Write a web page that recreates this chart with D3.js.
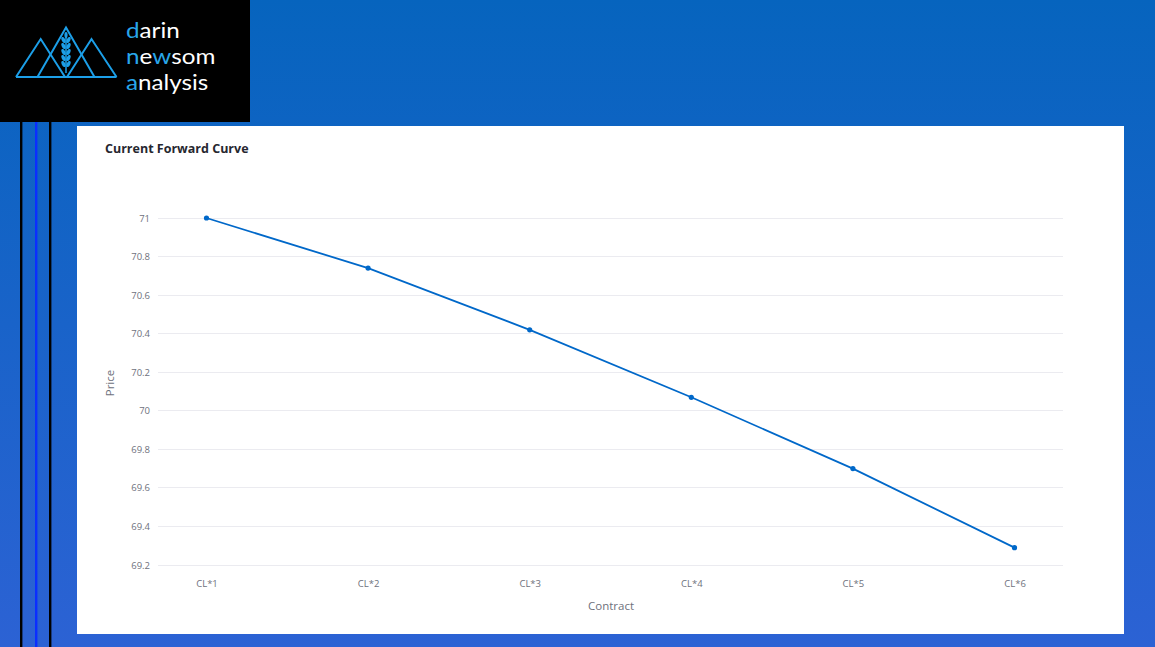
<!DOCTYPE html>
<html>
<head>
<meta charset="utf-8">
<script src="https://cdn.jsdelivr.net/npm/d3@7/dist/d3.min.js"></script>
<style>
  html, body { margin: 0; padding: 0; background: #fff; }
  svg { display: block; }
</style>
</head>
<body>
<svg id="chart" width="1155" height="647"></svg>
<script>
// ---- data ----
const contracts = ["CL*1", "CL*2", "CL*3", "CL*4", "CL*5", "CL*6"];
const prices = [71.00, 70.74, 70.42, 70.07, 69.70, 69.29];
const yTicks = [69.2, 69.4, 69.6, 69.8, 70, 70.2, 70.4, 70.6, 70.8, 71];
const titleText = "Current Forward Curve";
const xTitle = "Contract";
const yTitle = "Price";

const svg = d3.select("#chart");

// background gradient
const defs = svg.append("defs");
const grad = defs.append("linearGradient").attr("id", "bg").attr("x1", 0).attr("y1", 0).attr("x2", 0).attr("y2", 1);
grad.append("stop").attr("offset", "0%").attr("stop-color", "#0664be");
grad.append("stop").attr("offset", "100%").attr("stop-color", "#2c62d4");
svg.append("rect").attr("width", 1155).attr("height", 647).attr("fill", "url(#bg)");

// decorative vertical lines
[[21, "#000"], [36, "#0a2eff"], [50, "#000"]].forEach(([x, c]) => {
  svg.append("rect").attr("x", x - 1).attr("y", 122).attr("width", 2.4).attr("height", 525).attr("fill", c);
});

// logo box
svg.append("rect").attr("x", 0).attr("y", 0).attr("width", 250).attr("height", 122).attr("fill", "#000");
const logo = svg.append("g").attr("fill", "none").attr("stroke", "#1c9fe8").attr("stroke-width", 2).attr("stroke-linejoin", "miter");
logo.append("path").attr("d", "M16,77 L40.7,39 L65,77");
logo.append("path").attr("d", "M37.5,77 L66,27.5 L94.5,77");
logo.append("path").attr("d", "M67,77 L91.5,39 L116.5,77");
logo.append("path").attr("d", "M16,77 L116.5,77");
// wheat stalk
logo.append("path").attr("d", "M66,36 L66,73").attr("stroke-width", 1.5);
const wheat = svg.append("g").attr("fill", "#1c9fe8");
[40, 46, 52, 58, 64].forEach(y => {
  wheat.append("ellipse").attr("cx", 63.5).attr("cy", y).attr("rx", 1.8).attr("ry", 3.2).attr("transform", `rotate(-25,63.5,${y})`);
  wheat.append("ellipse").attr("cx", 68.5).attr("cy", y).attr("rx", 1.8).attr("ry", 3.2).attr("transform", `rotate(25,68.5,${y})`);
});
wheat.append("ellipse").attr("cx", 66).attr("cy", 35).attr("rx", 1.6).attr("ry", 3);

const logoText = svg.append("g").attr("transform", "translate(126,0) scale(1.1,1)")
  .attr("font-family", "Lato, 'Open Sans', sans-serif").attr("font-size", 22).attr("font-weight", 400).attr("fill", "#fff");
const l1 = logoText.append("text").attr("x", 0).attr("y", 38);
l1.append("tspan").attr("fill", "#29a6ea").text("d");
l1.append("tspan").text("arin");
const l2 = logoText.append("text").attr("x", 0).attr("y", 64);
l2.append("tspan").attr("fill", "#29a6ea").text("n");
l2.append("tspan").text("e");
l2.append("tspan").attr("fill", "#29a6ea").text("w");
l2.append("tspan").text("som");
const l3 = logoText.append("text").attr("x", 0).attr("y", 90);
l3.append("tspan").attr("fill", "#29a6ea").text("a");
l3.append("tspan").text("nalysis");

// white panel
svg.append("rect").attr("x", 77).attr("y", 126).attr("width", 1047).attr("height", 508).attr("fill", "#fff");

svg.append("text").attr("x", 105).attr("y", 153)
  .attr("font-family", "'Open Sans', 'Noto Sans', sans-serif").attr("font-weight", 700).attr("font-size", 12.5)
  .attr("fill", "#262730").text(titleText);

// scales
const x = d3.scalePoint().domain(contracts).range([158, 1063]).padding(0.3);
const y = d3.scaleLinear().domain([69.2, 71]).range([565, 218]);

const font = "'Open Sans', 'Noto Sans', sans-serif";

// gridlines
svg.append("g").selectAll("line").data(yTicks).join("line")
  .attr("x1", 158).attr("x2", 1063)
  .attr("y1", d => y(d)).attr("y2", d => y(d))
  .attr("stroke", "#ebebf0").attr("stroke-width", 1).attr("shape-rendering", "crispEdges");

// y axis
const yAxis = svg.append("g").attr("transform", "translate(158,0)")
  .call(d3.axisLeft(y).tickValues(yTicks).tickSize(0).tickPadding(8).tickFormat(d => d3.format("~g")(d)));
yAxis.select(".domain").remove();
yAxis.selectAll("text").attr("font-family", font).attr("font-size", 9.5).attr("fill", "#6e717c");

// x axis
const xAxis = svg.append("g").attr("transform", "translate(0,565)")
  .call(d3.axisBottom(x).tickSize(0).tickPadding(15));
xAxis.select(".domain").remove();
xAxis.selectAll("text").attr("font-family", font).attr("font-size", 9.5).attr("fill", "#6e717c");

// axis titles
svg.append("text").attr("x", 611).attr("y", 610).attr("text-anchor", "middle")
  .attr("font-family", font).attr("font-size", 11.5).attr("fill", "#6e717c").text(xTitle);
svg.append("text").attr("transform", "translate(114,383) rotate(-90)").attr("text-anchor", "middle")
  .attr("font-family", font).attr("font-size", 11.5).attr("fill", "#6e717c").text(yTitle);

// line
const pts = contracts.map((c, i) => ({ c, v: prices[i] }));
svg.append("path").datum(pts)
  .attr("d", d3.line().x(d => x(d.c)).y(d => y(d.v)))
  .attr("fill", "none").attr("stroke", "#0068c9").attr("stroke-width", 1.8);
svg.append("g").selectAll("circle").data(pts).join("circle")
  .attr("cx", d => x(d.c)).attr("cy", d => y(d.v)).attr("r", 2.6).attr("fill", "#0068c9");
</script>
</body>
</html>
